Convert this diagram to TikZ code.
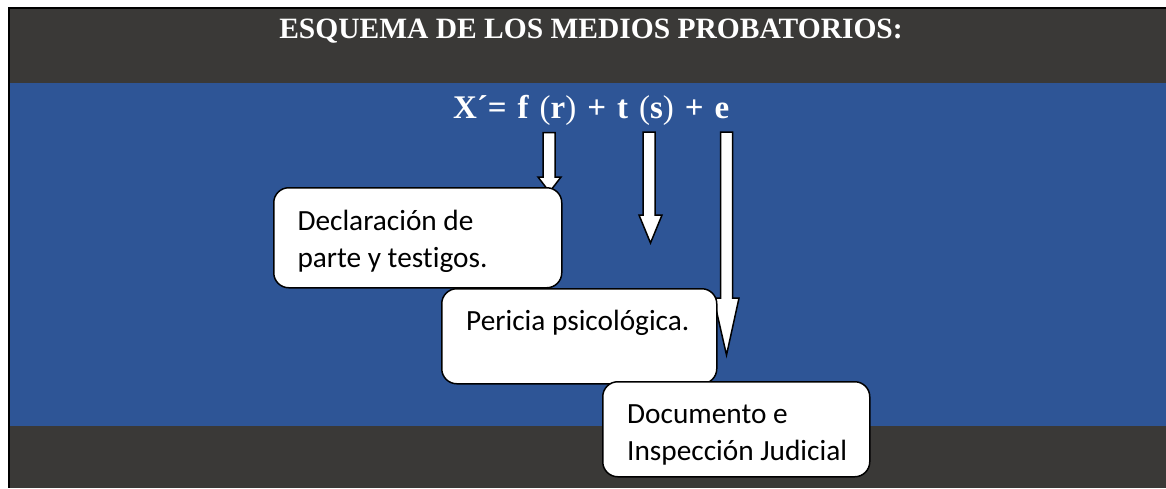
\documentclass[tikz,border=0pt]{standalone}
\usepackage{fontspec}
\setmainfont{Liberation Serif}
\newfontfamily\calibri[Ligatures=NoCommon]{Carlito}
\definecolor{darkbg}{HTML}{3A3937}
\definecolor{bandblue}{HTML}{2E5596}
\begin{document}
\begin{tikzpicture}[x=1pt,y=-1pt,
  blockarrow/.style={draw=black, fill=white, line width=1.5pt, line join=miter},
  card/.style={draw=black, fill=white, line width=1.5pt, rounded corners=15pt, anchor=north west, inner sep=0pt},
  cardtext/.style={anchor=base west, inner sep=0pt, font=\calibri\fontsize{29.3}{37}\selectfont, align=left, text=black},
  headtext/.style={anchor=base, inner sep=0pt, text=white}]
\useasboundingbox (0,0) rectangle (1166,488);
\fill[white] (0,0) rectangle (1166,488);
\fill[black] (8,6.5) rectangle (1166,488);
\fill[darkbg] (10,9) rectangle (1166,488);
\fill[bandblue] (10,83) rectangle (1166,425.5);

\node[headtext, font=\bfseries\fontsize{29.5}{30}\selectfont] (title) at (591,38) {ESQUEMA DE LOS MEDIOS PROBATORIOS:};
\node[headtext, font=\bfseries\fontsize{33}{34}\selectfont] (formula) at (591.2,118.3)
  {\spaceskip=11pt X´= f {\mdseries(}r{\mdseries)} + t {\mdseries(}s{\mdseries)} + e};

% block arrows
\draw[blockarrow] (543,132.5) -- (555,132.5) -- (555,177) -- (561,177) -- (549.5,192) -- (538,177) -- (543,177) -- cycle;
\draw[blockarrow] (643,132) -- (655,132) -- (655,215) -- (662,215) -- (650.5,243) -- (639,215) -- (643,215) -- cycle;
\draw[blockarrow] (720.5,132) -- (732.5,132) -- (732.5,298) -- (739,298) -- (726.5,355) -- (713.5,298) -- (720.5,298) -- cycle;

% boxes
\node[card, minimum width=288, minimum height=100] (decl) at (273,187) {};
\node[cardtext] (decltext) at (297.3,267) {Declaración de\\parte y testigos.};
\node[card, minimum width=275, minimum height=95] (peric) at (441,288) {};
\node[cardtext] (perictext) at (466,330) {Pericia psicológica.};
\node[card, minimum width=267, minimum height=95] (docu) at (602,381) {};
\node[cardtext] (docutext) at (627,460) {Documento e\\Inspección Judicial};
\end{tikzpicture}
\end{document}
